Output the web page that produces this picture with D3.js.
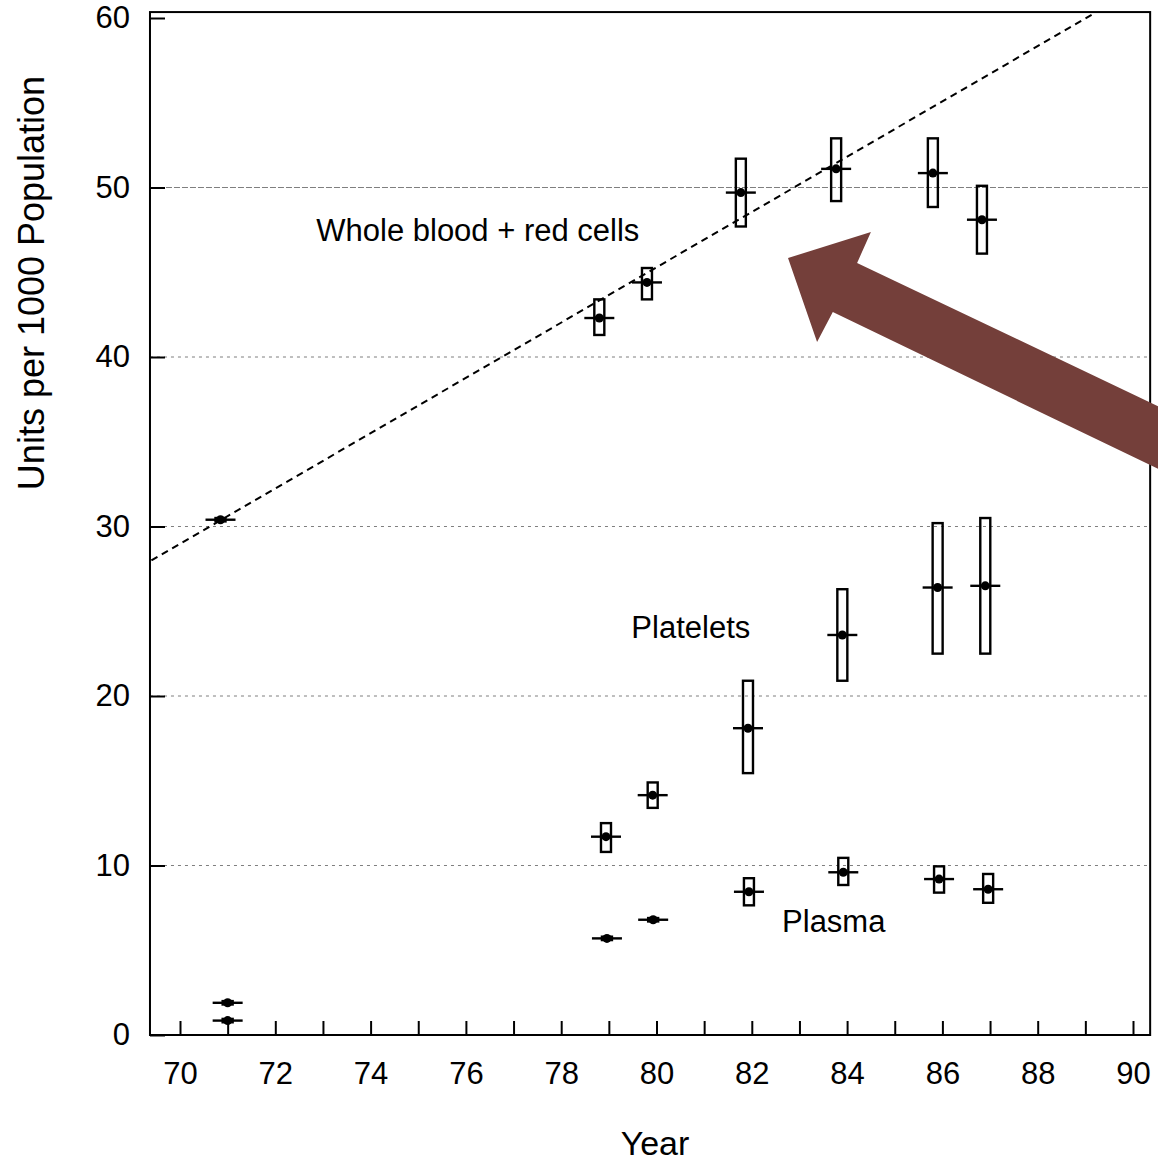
<!DOCTYPE html>
<html>
<head>
<meta charset="utf-8">
<script src="https://cdn.jsdelivr.net/npm/d3@7"></script>
<style>
  body { margin: 0; background: #fff; }
  svg { display: block; font-family: "Liberation Sans", Arial, Helvetica, sans-serif; }
</style>
</head>
<body>
<div id="chart"></div>
<script>
// Whole blood + red cells: year, mean, range
const wbYears = [70.85, 78.8, 79.8, 81.77, 83.77, 85.8, 86.83];
const wbMean  = [30.4, 42.3, 44.4, 49.7, 51.1, 50.85, 48.1];
const wbLow   = [30.3, 41.3, 43.4, 47.7, 49.2, 48.85, 46.1];
const wbHigh  = [30.5, 43.4, 45.25, 51.7, 52.9, 52.9, 50.1];

// Platelets
const pltYears = [71, 78.94, 79.92, 81.92, 83.9, 85.9, 86.9];
const pltMean  = [0.85, 11.7, 14.15, 18.1, 23.6, 26.4, 26.5];
const pltLow   = [0.75, 10.8, 13.4, 15.45, 20.9, 22.5, 22.5];
const pltHigh  = [0.95, 12.5, 14.9, 20.9, 26.3, 30.2, 30.5];

// Plasma
const plsYears = [71, 78.96, 79.93, 81.94, 83.92, 85.93, 86.96];
const plsMean  = [1.9, 5.7, 6.8, 8.45, 9.6, 9.2, 8.6];
const plsLow   = [1.8, 5.6, 6.7, 7.65, 8.85, 8.4, 7.8];
const plsHigh  = [2.0, 5.8, 6.9, 9.25, 10.45, 9.95, 9.5];

// Dashed trend line for whole blood (end points)
const trendYears  = [69.4, 89.2];
const trendValues = [28.0, 60.3];

// Axis ticks
const yTickValues = [0, 10, 20, 30, 40, 50, 60];
const yGridValues = [10, 20, 30, 40, 50];
const xTickValues = [70, 71, 72, 73, 74, 75, 76, 77, 78, 79, 80, 81, 82, 83, 84, 85, 86, 87, 88, 89, 90];
const xTickLabels = [70, 72, 74, 76, 78, 80, 82, 84, 86, 88, 90];

// Series names
const seriesNames = ["Whole blood + red cells", "Platelets", "Plasma"];

// Label anchors (data units) and arrow outline (data units)
const labelAnchors = [[76.25, 46.85], [80.72, 23.4], [83.72, 6.05]];
const arrowShape = [
  [82.76, 45.84], [84.50, 47.37], [84.21, 45.55], [90.60, 37.00],
  [90.60, 33.30], [83.70, 42.65], [83.37, 40.88]
];

const width = 1158;
const height = 1161;

const svg = d3.select("#chart")
  .append("svg")
  .attr("width", width)
  .attr("height", height);

// Scales
const x = d3.scaleLinear().domain([70, 90]).range([180, 1133]);
const y = d3.scaleLinear().domain([0, 60]).range([1035, 18]);

const plotLeft = x(69.37), plotRight = x(90.36), plotTop = y(60.35), plotBottom = y(0);

// Dotted grid lines
svg.append("g")
  .selectAll("line")
  .data(yGridValues)
  .enter().append("line")
  .attr("x1", plotLeft)
  .attr("x2", plotRight)
  .attr("y1", d => y(d))
  .attr("y2", d => y(d))
  .attr("stroke", "#555")
  .attr("stroke-width", 1)
  .attr("stroke-dasharray", d => d === 50 ? "6,2" : "3,4")
  .attr("opacity", 0.75);

// Y axis (ticks point inward)
const yAxis = svg.append("g")
  .attr("transform", `translate(${plotLeft},0)`)
  .call(d3.axisLeft(y).tickValues(yTickValues).tickSize(-15).tickPadding(20));
yAxis.select(".domain").remove();
yAxis.selectAll("line").attr("stroke", "#000").attr("stroke-width", 2);
yAxis.selectAll("text")
  .attr("font-size", 31)
  .attr("font-family", "Liberation Sans, Arial, sans-serif")
  .attr("fill", "#000");

// X axis (ticks every year, labels every 2 years)
const xAxis = svg.append("g")
  .attr("transform", `translate(0,${plotBottom})`)
  .call(d3.axisBottom(x)
    .tickValues(xTickValues)
    .tickSize(-14)
    .tickPadding(27)
    .tickFormat(d => xTickLabels.includes(d) ? d : ""));
xAxis.select(".domain").remove();
xAxis.selectAll("line").attr("stroke", "#000").attr("stroke-width", 2);
xAxis.selectAll("text")
  .attr("font-size", 31)
  .attr("font-family", "Liberation Sans, Arial, sans-serif")
  .attr("fill", "#000");

// Trend line
svg.append("path")
  .datum(trendYears.map((d, i) => [d, trendValues[i]]))
  .attr("d", d3.line().x(d => x(d[0])).y(d => y(d[1])))
  .attr("fill", "none")
  .attr("stroke", "#000")
  .attr("stroke-width", 2)
  .attr("stroke-dasharray", "7,5");

// Draw a series of range boxes with a crossbar at the mean
function drawSeries(years, mean, low, high) {
  const rows = years.map((d, i) => ({ year: d, mean: mean[i], low: low[i], high: high[i] }));
  const g = svg.append("g");

  g.selectAll("rect")
    .data(rows)
    .enter().append("rect")
    .attr("x", d => x(d.year) - 5)
    .attr("y", d => y(d.high))
    .attr("width", 10)
    .attr("height", d => y(d.low) - y(d.high))
    .attr("fill", "none")
    .attr("stroke", "#000")
    .attr("stroke-width", 2.4);

  g.selectAll("line")
    .data(rows)
    .enter().append("line")
    .attr("x1", d => x(d.year) - 15)
    .attr("x2", d => x(d.year) + 15)
    .attr("y1", d => y(d.mean))
    .attr("y2", d => y(d.mean))
    .attr("stroke", "#000")
    .attr("stroke-width", 2.4);

  g.selectAll("circle")
    .data(rows)
    .enter().append("circle")
    .attr("cx", d => x(d.year))
    .attr("cy", d => y(d.mean))
    .attr("r", 4.5)
    .attr("fill", "#000");
}

drawSeries(wbYears, wbMean, wbLow, wbHigh);
drawSeries(pltYears, pltMean, pltLow, pltHigh);
drawSeries(plsYears, plsMean, plsLow, plsHigh);

// Series labels
svg.append("g")
  .selectAll("text")
  .data(seriesNames)
  .enter().append("text")
  .attr("x", (d, i) => x(labelAnchors[i][0]))
  .attr("y", (d, i) => y(labelAnchors[i][1]))
  .attr("text-anchor", "middle")
  .attr("font-size", 31)
  .attr("fill", "#000")
  .text(d => d);

// Frame
svg.append("rect")
  .attr("x", plotLeft)
  .attr("y", plotTop)
  .attr("width", plotRight - plotLeft)
  .attr("height", plotBottom - plotTop)
  .attr("fill", "none")
  .attr("stroke", "#000")
  .attr("stroke-width", 2);

// Axis titles
svg.append("text")
  .attr("transform", "translate(44,283) rotate(-90)")
  .attr("text-anchor", "middle")
  .attr("font-size", 36)
  .attr("fill", "#000")
  .text("Units per 1000 Population");

svg.append("text")
  .attr("x", 655)
  .attr("y", 1155)
  .attr("text-anchor", "middle")
  .attr("font-size", 34)
  .attr("fill", "#000")
  .text("Year");

// Annotation arrow
svg.append("polygon")
  .attr("points", arrowShape.map(d => [x(d[0]), y(d[1])].join(",")).join(" "))
  .attr("fill", "#743f3a");
</script>
</body>
</html>
